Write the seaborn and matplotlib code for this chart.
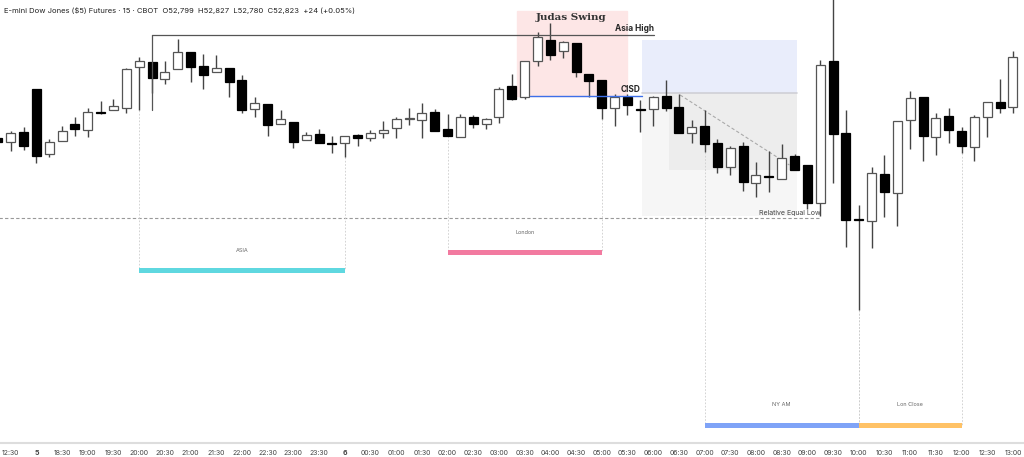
import matplotlib
matplotlib.use("Agg")
import matplotlib.pyplot as plt
import numpy as np
import seaborn as sns

# 15-minute bars, index -1 .. 78
opens = [52862, 52858, 52868, 52911, 52846, 52859, 52876, 52870, 52888, 52890, 52892, 52933, 52938, 52921, 52931, 52948,
         52934, 52928, 52932, 52920, 52891, 52896, 52876, 52878, 52860, 52866, 52857, 52857, 52865, 52862, 52867, 52872,
         52881, 52880, 52888, 52871, 52863, 52883, 52876, 52883, 52914, 52903, 52939, 52960, 52949, 52957, 52926, 52920,
         52892, 52903, 52891, 52891, 52904, 52893, 52867, 52874, 52857, 52833, 52854, 52817, 52824.5, 52821, 52844, 52835,
         52797, 52939, 52867, 52781, 52779, 52826, 52807, 52880, 52903, 52863, 52884, 52869, 52853, 52883, 52898, 52893]
highs = [52864, 52869, 52873, 52911, 52861, 52874, 52883, 52892, 52899, 52901, 52932, 52943, 52938, 52939, 52961, 52948,
         52946, 52945, 52932, 52925, 52903, 52896, 52890, 52878, 52868, 52871, 52864, 52864, 52866, 52870, 52879, 52883,
         52892, 52897, 52891, 52886, 52886, 52885, 52882, 52913, 52926, 52939, 52968, 52977, 52959, 52957, 52926, 52920,
         52906, 52906, 52900, 52904, 52920, 52906, 52880, 52890, 52861, 52854, 52858, 52838, 52849, 52856, 52846, 52835,
         52940, 53012, 52890, 52795, 52833, 52845, 52879, 52909, 52903, 52887, 52892, 52873, 52885, 52898, 52921, 52949]
lows = [52856, 52849, 52850, 52837, 52843, 52859, 52864, 52863, 52886, 52890, 52887, 52890, 52907, 52916, 52931, 52918,
        52911, 52928, 52903, 52887, 52883, 52864, 52876, 52852, 52860, 52857, 52847, 52843, 52854, 52859, 52862, 52862,
        52875, 52862, 52869, 52864, 52863, 52872, 52871, 52877, 52900, 52901, 52934, 52940, 52942, 52923, 52903, 52881,
        52874, 52885, 52868, 52874, 52889, 52867, 52857, 52848, 52827, 52825, 52809, 52803, 52808, 52821, 52830, 52791,
        52784, 52817, 52753, 52690, 52752, 52783, 52774, 52851, 52839, 52845, 52857, 52847, 52839, 52863, 52887, 52887]
closes = [52858, 52867, 52854, 52844, 52858, 52869, 52871, 52888, 52887, 52894, 52931, 52939, 52922, 52928, 52948, 52933,
          52925, 52932, 52918, 52890, 52897, 52875, 52881, 52858, 52865, 52857, 52856.5, 52864, 52862, 52867, 52870, 52881,
          52881.5, 52887, 52869, 52864, 52883, 52876, 52881, 52911, 52901, 52939, 52963, 52945, 52958, 52928, 52919, 52892,
          52903, 52895, 52890.5, 52903, 52892, 52867, 52873, 52856, 52833, 52852, 52818, 52825, 52823.5, 52842, 52830, 52797,
          52935, 52866, 52780, 52780.5, 52827, 52808, 52879, 52902, 52864, 52882, 52870, 52854, 52883, 52898, 52892, 52943]
bar_idx = list(range(-1, 79))

tick_labels = ["12:30", "5", "18:30", "19:00", "19:30", "20:00", "20:30", "21:00", "21:30", "22:00", "22:30",
               "23:00", "23:30", "6", "00:30", "01:00", "01:30", "02:00", "02:30", "03:00", "03:30", "04:00",
               "04:30", "05:00", "05:30", "06:00", "06:30", "07:00", "07:30", "08:00", "08:30", "09:00", "09:30",
               "10:00", "10:30", "11:00", "11:30", "12:00", "12:30", "13:00"]

sessions = [("ASIA", 10, 26, "#5fd8e0", 52730, 52750),
            ("London", 34, 46, "#f27aa0", 52748, 52768),
            ("NY AM", 54, 66, "#7fa3f7", 52575, 52596),
            ("Lon Close", 66, 74, "#ffc266", 52575, 52596)]

asia_high = 52965
cisd = 52904
rel_eq_low = 52782

sns.set_style("white")
plt.rcParams["font.family"] = ["Inter", "DejaVu Sans"]

fig = plt.figure(figsize=(10.24, 4.57), dpi=100)
ax = fig.add_axes([0, 14 / 457, 1, 443 / 457])
ax.set_xlim(-0.833, 78.86)
ax.set_ylim(53000 - 443, 53000)

idx = np.array(bar_idx)
o, h, l, c = map(np.array, (opens, highs, lows, closes))
up = c >= o

# zones
ax.axvspan(39.4, 47.97, ymin=(52904 - 52557) / 443, ymax=(52989 - 52557) / 443, color="#fde6e6", zorder=0)
ax.fill_between([49.1, 61.2], 52907, 52960, color="#e9edfb", zorder=0, lw=0)
ax.fill_between([49.1, 61.2], 52784, 52907, color="#f6f6f6", zorder=0, lw=0)
ax.fill_between([51.2, 61.2], 52830, 52907, color="#ededed", zorder=0, lw=0)
ax.plot([49.1, 61.2], [52907, 52907], color="#cfcfd6", lw=1.2, zorder=1)

# candles
ax.vlines(idx, l, h, color="#444444", lw=1, zorder=2)
body_h = np.where(np.abs(c - o) < 1, 1.0, np.abs(c - o))
ax.bar(idx[up], body_h[up], bottom=np.minimum(o, c)[up], width=0.7, color="white",
       edgecolor="#555555", linewidth=0.9, zorder=3)
ax.bar(idx[~up], body_h[~up], bottom=np.minimum(o, c)[~up], width=0.7, color="black",
       edgecolor="black", linewidth=0.9, zorder=3)

# levels
ax.plot([11, 50.1], [asia_high, asia_high], color="#555555", lw=0.9, zorder=4)
ax.plot([11, 11], [52890, asia_high], color="#555555", lw=0.9, zorder=4)
ax.text(50.1, asia_high + 2, "Asia High", ha="right", va="bottom", fontsize=6, fontweight="bold")
ax.plot([40.4, 49.1], [cisd, cisd], color="#3d6fe8", lw=1, zorder=4)
ax.text(49.0, cisd + 2, "CISD", ha="right", va="bottom", fontsize=6, fontweight="bold")
ax.text(43.6, 52983, "Judas Swing", ha="center", va="center", fontsize=7.5, fontweight="bold",
        family="DejaVu Serif", color="#333333")
ax.plot([-0.9, 63.0], [rel_eq_low, rel_eq_low], color="#999999", lw=0.8, ls=(0, (3, 2)), zorder=1)
ax.text(63.0, rel_eq_low + 2, "Relative Equal Low", ha="right", va="bottom", fontsize=5, color="#444444")
ax.plot([52.1, 60.6], [52905, 52835], color="#aaaaaa", lw=0.8, ls=(0, (3, 2)), zorder=1)

# sessions
for name, s, e, col, ybar, ylab in sessions:
    for b in (s, e):
        ax.plot([b, b], [lows[b + 1], ybar], color="#cccccc", lw=0.6, ls=(0, (2, 2)), zorder=1)
    ax.fill_between([s, e], ybar - 2.5, ybar + 2.5, color=col, lw=0, zorder=2)
    ax.text((s + e) / 2, ylab, name, ha="center", va="center", fontsize=4, color="#666666")

ax.set_xticks(np.arange(0, 2 * len(tick_labels), 2))
ax.set_xticklabels(tick_labels, fontsize=5, color="#444444")
ax.tick_params(axis="x", length=0, pad=5)
for t, lab in zip(ax.get_xticklabels(), tick_labels):
    if lab in ("5", "6"):
        t.set_fontweight("bold")
ax.set_yticks([])
for sp in ("top", "left", "right"):
    ax.spines[sp].set_visible(False)
ax.spines["bottom"].set_color("#dddddd")
ax.spines["bottom"].set_linewidth(1.5)

fig.text(0.004, 0.985, "E-mini Dow Jones ($5) Futures · 15 · CBOT  O52,799  H52,827  L52,780  C52,823  +24 (+0.05%)",
         fontsize=5.5, color="#222222", va="top")

fig.savefig("out.png", dpi=100)
